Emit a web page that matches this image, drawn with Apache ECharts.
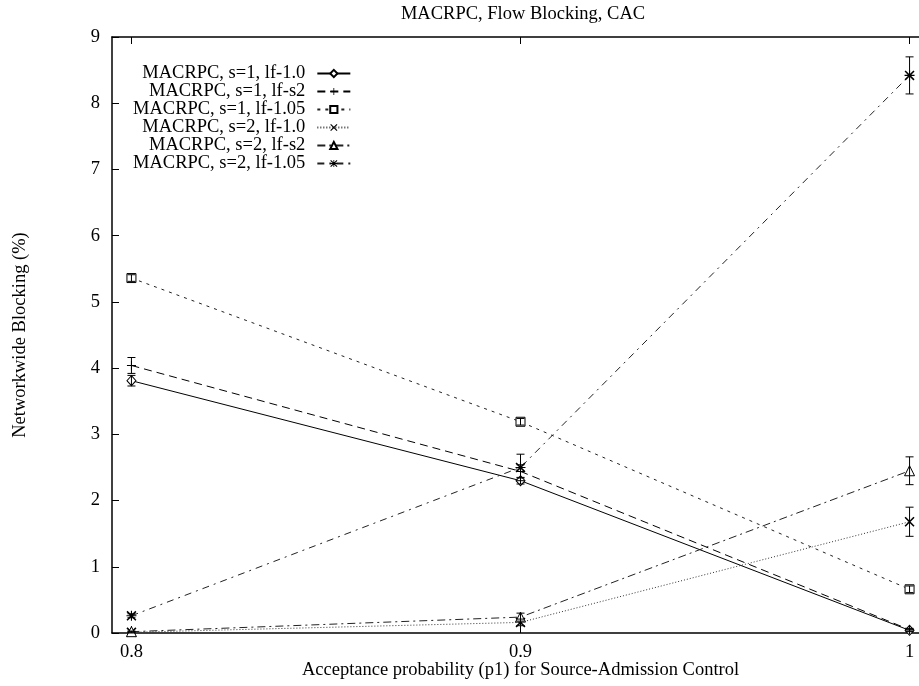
<!DOCTYPE html>
<html>
<head>
<meta charset="utf-8">
<script src="https://cdn.jsdelivr.net/npm/echarts@6/dist/echarts.min.js"></script>
<style>html,body{margin:0;padding:0;background:#fff}#c{width:919px;height:686px}</style>
</head>
<body>
<div id="c"></div>
<script>
// ---- data ----
const xValues = [0.8, 0.9, 1.0];
const xTickLabels = [0.8, 0.9, 1.0];
const seriesNames = [
  'MACRPC, s=1, lf-1.0',
  'MACRPC, s=1, lf-s2',
  'MACRPC, s=1, lf-1.05',
  'MACRPC, s=2, lf-1.0',
  'MACRPC, s=2, lf-s2',
  'MACRPC, s=2, lf-1.05'
];
const s1lf10 = [3.81, 2.30, 0.04];
const s1lfs2 = [4.04, 2.44, 0.05];
const s1lf105 = [5.36, 3.19, 0.66];
const s2lf10 = [0.01, 0.16, 1.68];
const s2lfs2 = [0.02, 0.24, 2.45];
const s2lf105 = [0.26, 2.50, 8.42];
const err_s1lf10 = [0.08, 0.05, 0.02];
const err_s1lfs2 = [0.12, 0.10, 0.02];
const err_s1lf105 = [0.05, 0.05, 0.05];
const err_s2lf10 = [0.01, 0.05, 0.22];
const err_s2lfs2 = [0.01, 0.06, 0.21];
const err_s2lf105 = [0.03, 0.20, 0.28];

const values = [s1lf10, s1lfs2, s1lf105, s2lf10, s2lfs2, s2lf105];
const errors = [err_s1lf10, err_s1lfs2, err_s1lf105, err_s2lf10, err_s2lfs2, err_s2lf105];

// ---- styles ----
const FONT = '"Liberation Serif", "DejaVu Serif", serif';
const FS = 18.5;
const symPlus = 'path://M4,0h1v4h4v1h-4v4h-1v-4h-4v-1h4z';
const symX = 'path://M0,1L1,0L9,8L8,9Z M0,8L8,0L9,1L1,9Z';
const symStar = 'path://M0,1L1,0L9,8L8,9Z M0,8L8,0L9,1L1,9Z M4,0h1v4h4v1h-4v4h-1v-4h-4v-1h4z';
const styles = [
  {symbol: 'diamond', size: [9, 10], hollow: true, dash: 'solid', color: '#000'},
  {symbol: symPlus, size: 9, hollow: false, dash: [8, 5], color: '#000'},
  {symbol: 'rect', size: 9, hollow: true, dash: [3, 5], color: '#222'},
  {symbol: symX, size: 10, hollow: false, dash: [1, 2], color: '#333'},
  {symbol: 'triangle', size: 10, hollow: true, dash: [8, 4, 2, 4], color: '#222'},
  {symbol: symStar, size: 10, hollow: false, dash: [7, 5, 2, 5], color: '#222'}
];

const series = [];
seriesNames.forEach((name, i) => {
  const st = styles[i];
  series.push({
    name: name,
    type: 'line',
    data: xValues.map((x, k) => [x, values[i][k]]),
    symbol: st.symbol,
    symbolSize: st.size,
    showSymbol: true,
    z: 3,
    lineStyle: {color: st.color, width: 1, type: st.dash},
    itemStyle: st.hollow ? {color: '#fff', borderColor: '#000', borderWidth: 1}
                         : {color: '#000', borderWidth: 0},
    emphasis: {disabled: true},
    animation: false
  });
  series.push({
    name: name + ' err',
    type: 'custom',
    data: xValues.map((x, k) => [x, values[i][k] - errors[i][k], values[i][k] + errors[i][k]]),
    z: 4,
    silent: true,
    animation: false,
    renderItem: function (params, api) {
      const lo = api.coord([api.value(0), api.value(1)]);
      const hi = api.coord([api.value(0), api.value(2)]);
      const w = 4;
      const style = {stroke: '#000', lineWidth: 1, fill: null};
      return {
        type: 'group',
        children: [
          {type: 'line', shape: {x1: lo[0], y1: lo[1], x2: hi[0], y2: hi[1]}, style: style},
          {type: 'line', shape: {x1: lo[0] - w, y1: lo[1], x2: lo[0] + w, y2: lo[1]}, style: style},
          {type: 'line', shape: {x1: hi[0] - w, y1: hi[1], x2: hi[0] + w, y2: hi[1]}, style: style}
        ]
      };
    }
  });
});

const chart = echarts.init(document.getElementById('c'), null, {renderer: 'canvas'});
chart.setOption({
  animation: false,
  backgroundColor: '#fff',
  textStyle: {fontFamily: FONT},
  title: {
    text: 'MACRPC, Flow Blocking, CAC',
    left: 518, top: 0, textAlign: 'center',
    textStyle: {fontFamily: FONT, fontSize: FS, fontWeight: 'normal', color: '#000'}
  },
  legend: {
    data: seriesNames,
    orient: 'vertical',
    left: 128, top: 59,
    align: 'right',
    itemWidth: 33, itemHeight: 9,
    itemGap: -1,
    selectedMode: false,
    textStyle: {fontFamily: FONT, fontSize: FS, lineHeight: 16.8, color: '#000', width: 166, align: 'right', padding: [0, 7, 0, 0]}
  },
  grid: {left: 112, top: 37, width: 817, bottom: 53, containLabel: false, outerBoundsMode: 'none'},
  xAxis: [{
    type: 'value', min: 0.795, max: 1.005,
    name: 'Acceptance probability (p1) for Source-Admission Control',
    nameLocation: 'middle', nameGap: 28, nameMoveOverlap: false,
    nameTextStyle: {fontFamily: FONT, fontSize: FS, color: '#000'},
    axisLine: {show: true, onZero: false, lineStyle: {color: '#000', width: 1.5}},
    axisTick: {show: true, inside: true, length: 7, customValues: xTickLabels, lineStyle: {color: '#000'}},
    axisLabel: {show: true, customValues: xTickLabels, fontFamily: FONT, fontSize: FS, color: '#000', margin: 10,
      formatter: v => (Math.abs(v - 1) < 1e-9 ? '1' : String(+v.toFixed(1)))},
    splitLine: {show: false}
  }, {
    type: 'value', min: 0.795, max: 1.005, position: 'top',
    axisLine: {show: true, onZero: false, lineStyle: {color: '#000', width: 1.5}},
    axisTick: {show: true, inside: true, length: 7, customValues: xTickLabels, lineStyle: {color: '#000'}},
    axisLabel: {show: false},
    splitLine: {show: false}
  }],
  yAxis: [{
    type: 'value', min: 0, max: 9, interval: 1,
    name: 'Networkwide Blocking (%)',
    nameLocation: 'middle', nameGap: 82, nameRotate: 90, nameMoveOverlap: false,
    nameTextStyle: {fontFamily: FONT, fontSize: FS, color: '#000'},
    axisLine: {show: true, onZero: false, lineStyle: {color: '#000', width: 1.5}},
    axisTick: {show: true, inside: true, length: 7, lineStyle: {color: '#000'}},
    axisLabel: {fontFamily: FONT, fontSize: FS, color: '#000', margin: 12},
    splitLine: {show: false}
  }, {
    type: 'value', min: 0, max: 9, interval: 1, position: 'right',
    axisLine: {show: true, onZero: false, lineStyle: {color: '#000', width: 1.5}},
    axisTick: {show: true, inside: true, length: 7, lineStyle: {color: '#000'}},
    axisLabel: {show: false},
    splitLine: {show: false}
  }],
  series: series
});
</script>
</body>
</html>
